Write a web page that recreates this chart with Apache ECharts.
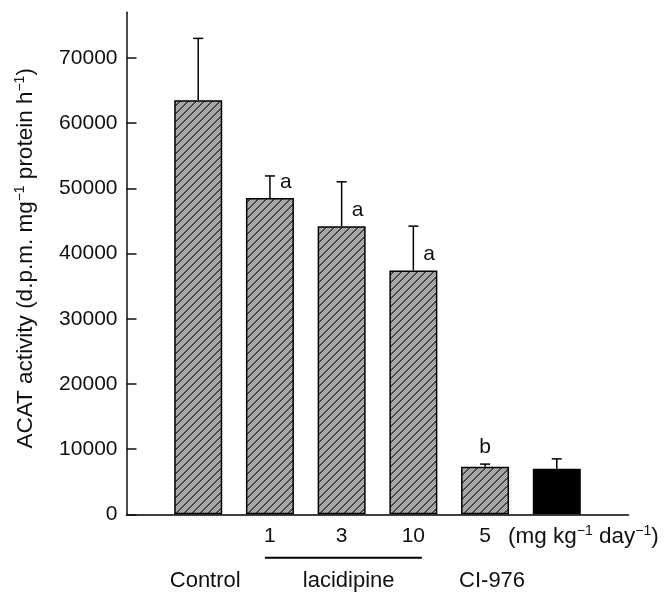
<!DOCTYPE html>
<html><head><meta charset="utf-8">
<script src="https://cdn.jsdelivr.net/npm/echarts@6/dist/echarts.min.js"></script>
<style>html,body{margin:0;padding:0;background:#fff}#c{width:671px;height:595px}</style>
</head><body><div id="c"></div>
<script>
// ---- data ----
const categories = ['', 'Control', 'Lacidipine 1', 'Lacidipine 3', 'Lacidipine 10', 'CI-976 5 (hatched)', 'CI-976 5 (solid)', ''];
const doseLabels = ['', '', '1', '3', '10', '5', '', ''];
const groupLabels = ['', 'Control', '', 'lacidipine', '', 'CI-976', '', ''];
const means = [null, 63500, 48500, 44200, 37400, 7300, 7000, null];
const errors = [null, 9500, 3400, 6800, 6800, 400, 1500, null];
const marks = ['', '', 'a', 'a', 'a', 'b', '', ''];
const solid = [false, false, false, false, false, false, true, false];
const yTicks = [0, 10000, 20000, 30000, 40000, 50000, 60000, 70000];
const yName = '{n|ACAT activity (d.p.m. mg}{s|−1}{n| protein h}{s|−1}{n|)}';
const unitText = '{n|(mg kg}{s|−1}{n| day}{s|−1}{n|)}';

const FONT = '"Liberation Sans", Arial, sans-serif';

// hatch pattern
function makeHatch() {
  const c = document.createElement('canvas');
  c.width = 8; c.height = 8;
  const ctx = c.getContext('2d');
  const img = ctx.createImageData(8, 8);
  for (let y = 0; y < 8; y++) for (let x = 0; x < 8; x++) {
    const k = (x + y) % 8;
    let v;
    if (k < 2) v = 0x48;
    else v = ((x + y) % 2 === 0) ? 0xc0 : 0x8c;
    const o = (y * 8 + x) * 4;
    img.data[o] = v; img.data[o + 1] = v; img.data[o + 2] = v; img.data[o + 3] = 255;
  }
  ctx.putImageData(img, 0, 0);
  return c;
}
const hatch = { image: makeHatch(), repeat: 'repeat' };

const chart = echarts.init(document.getElementById('c'), null, { renderer: 'canvas' });

const barData = means.map((v, i) => v == null ? '-' : {
  value: v,
  itemStyle: { color: solid[i] ? '#000' : hatch, borderColor: '#000', borderWidth: 1.5 }
});
const errData = [];
means.forEach((v, i) => { if (v != null) errData.push([i, v, errors[i]]); });

const richSup = {
  n: { fontSize: 22.5, fontFamily: FONT, color: '#111', lineHeight: 25 },
  s: { fontSize: 14, fontFamily: FONT, color: '#111', verticalAlign: 'top', lineHeight: 15 }
};

const option = {
  backgroundColor: '#fff',
  animation: false,
  grid: { left: 126.5, right: 42.5, top: 12.3, bottom: 80.7, containLabel: false },
  xAxis: {
    type: 'category',
    data: categories,
    boundaryGap: false,
    axisLine: { show: true, lineStyle: { color: '#000', width: 1.5 } },
    axisTick: { show: false },
    splitLine: { show: false },
    axisLabel: {
      interval: 0,
      margin: 7,
      formatter: (v, i) => '{d|' + (doseLabels[i] || ' ') + '}\n{g|' + (groupLabels[i] || ' ') + '}',
      rich: {
        d: { fontSize: 21, lineHeight: 30, fontFamily: FONT, color: '#111' },
        g: { fontSize: 22, lineHeight: 60, fontFamily: FONT, color: '#111', padding: [0, 0, 0, 14] }
      }
    }
  },
  yAxis: {
    type: 'value',
    min: 0,
    max: 77000,
    interval: 10000,
    splitLine: { show: false },
    axisLine: { show: true, lineStyle: { color: '#111', width: 1.5 } },
    axisTick: { show: true, inside: true, length: 10, customValues: yTicks, lineStyle: { color: '#111', width: 1.5 } },
    axisLabel: { customValues: yTicks, formatter: v => String(v), margin: 9, fontSize: 21, fontFamily: FONT, color: '#111' },
    name: yName,
    nameLocation: 'middle',
    nameGap: 88,
    nameTextStyle: {
      fontSize: 22.5, fontFamily: FONT, color: '#111',
      padding: [0, 0, 0, 10],
      rich: richSup
    }
  },
  series: [
    {
      type: 'bar',
      data: barData,
      barWidth: 48,
      z: 2
    },
    {
      type: 'custom',
      data: errData,
      z: 3,
      renderItem: (params, api) => {
        const i = api.value(0);
        const base = api.coord([i, api.value(1)]);
        const top = api.coord([i, api.value(1) + api.value(2)]);
        const x = base[0];
        const children = [
          { type: 'line', shape: { x1: x, y1: base[1], x2: x, y2: top[1] }, style: { stroke: '#000', lineWidth: 1.5 } },
          { type: 'line', shape: { x1: x - 5, y1: top[1], x2: x + 5, y2: top[1] }, style: { stroke: '#000', lineWidth: 1.5 } }
        ];
        const m = marks[i];
        if (m === 'a') {
          children.push({ type: 'text', style: { text: m, x: x + 10, y: base[1] - 16, align: 'left', verticalAlign: 'middle', font: '21px ' + FONT, fill: '#111' } });
        } else if (m === 'b') {
          children.push({ type: 'text', style: { text: m, x: x, y: base[1] - 20, align: 'center', verticalAlign: 'middle', font: '21px ' + FONT, fill: '#111' } });
        }
        return { type: 'group', children };
      }
    }
  ]
};
chart.setOption(option);

const p2 = chart.convertToPixel({ xAxisIndex: 0 }, categories[2]);
const p4 = chart.convertToPixel({ xAxisIndex: 0 }, categories[4]);
const p5 = chart.convertToPixel({ xAxisIndex: 0 }, categories[5]);
const y0 = chart.convertToPixel({ yAxisIndex: 0 }, 0);

chart.setOption({
  graphic: [
    {
      type: 'text',
      x: p5 + 23,
      y: y0 + 22.4,
      style: {
        text: unitText,
        align: 'left',
        verticalAlign: 'middle',
        rich: {
          n: { font: '22.5px ' + FONT, fill: '#111', lineHeight: 25 },
          s: { font: '14px ' + FONT, fill: '#111', verticalAlign: 'top', lineHeight: 15 }
        }
      }
    },
    {
      type: 'line',
      shape: { x1: p2 - 5, y1: y0 + 43.4, x2: p4 + 8.5, y2: y0 + 43.4 },
      style: { stroke: '#000', lineWidth: 2 }
    }
  ]
});
</script>
</body></html>
